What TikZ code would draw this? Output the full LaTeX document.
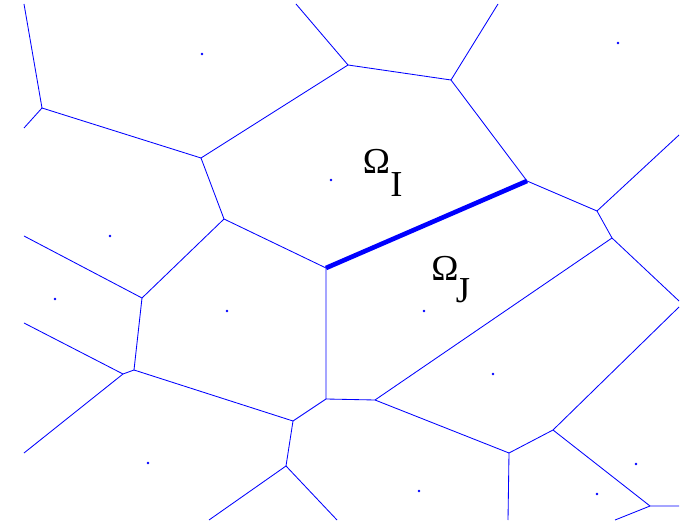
\documentclass[tikz,border=0pt]{standalone}
\usepackage{fontspec}
\setmainfont{Liberation Serif}
\begin{document}
\begin{tikzpicture}[x=0.025cm, y=-0.025cm, line join=round,
        edge/.style={blue, line width=0.6pt},
        iface/.style={blue, line width=3.3pt},
        seed/.style={fill=blue, draw=none},
        lbl/.style={font=\fontsize{26}{30}\selectfont, inner sep=0pt}]
    \useasboundingbox (0,0) rectangle (695,523);
    % Vertices
    \coordinate (A) at (42,108);
    \coordinate (B) at (201,158);
    \coordinate (C) at (348,65);
    \coordinate (D) at (224,219);
    \coordinate (E) at (142,298);
    \coordinate (F) at (326,268);
    \coordinate (G) at (451,80);
    \coordinate (H) at (527,181);
    \coordinate (K) at (597,211);
    \coordinate (L) at (612,238);
    \coordinate (M) at (134,370);
    \coordinate (N) at (123,374);
    \coordinate (P) at (293,421);
    \coordinate (Q) at (326,399);
    \coordinate (R) at (375,400);
    \coordinate (S) at (286,466);
    \coordinate (T) at (553,430);
    \coordinate (U) at (509,453);
    \coordinate (V) at (650,506);
    % Ends on the border
    \coordinate (a1) at (24,4);
    \coordinate (a2) at (24,128);
    \coordinate (c1) at (296,4);
    \coordinate (g1) at (498,4);
    \coordinate (k1) at (679,135);
    \coordinate (l1) at (679,301);
    \coordinate (t1) at (679,307);
    \coordinate (v1) at (679,506);
    \coordinate (v2) at (615,520);
    \coordinate (u1) at (508,520);
    \coordinate (s1) at (337,520);
    \coordinate (s2) at (209,520);
    \coordinate (n1) at (24,453);
    \coordinate (n2) at (24,323);
    \coordinate (e1) at (24,236);
    % Cell edges
    \draw[edge] (a1) -- (A) -- (a2);
    \draw[edge] (A) -- (B) -- (C) -- (c1);
    \draw[edge] (C) -- (G) -- (g1);
    \draw[edge] (G) -- (H) -- (K) -- (k1);
    \draw[edge] (K) -- (L) -- (l1);
    \draw[edge] (L) -- (R) -- (Q) -- (F) -- (D) -- (B);
    \draw[edge] (D) -- (E) -- (e1);
    \draw[edge] (E) -- (M) -- (N) -- (n1);
    \draw[edge] (N) -- (n2);
    \draw[edge] (M) -- (P) -- (Q);
    \draw[edge] (P) -- (S) -- (s1);
    \draw[edge] (S) -- (s2);
    \draw[edge] (R) -- (U) -- (u1);
    \draw[edge] (U) -- (T) -- (t1);
    \draw[edge] (T) -- (V) -- (v1);
    \draw[edge] (V) -- (v2);
    % Common face
    \draw[iface] (F) -- (H);
    % Seeds
    \foreach \x/\y in {202/54, 331/180, 110/236, 618/43, 55/299, 227/311,
                       424/311, 493/374, 148/463, 419/491, 636/464, 597/494} {
            \fill[seed] (\x,\y) circle (1.05pt);
        }
    % Labels
    \node[lbl] (omI) at (376.5,161) {Ω};
    \node[lbl] (subI) at (396.5,185) {I};
    \node[lbl] (omJ) at (445,268.5) {Ω};
    \node[lbl] (subJ) at (463,291) {J};
\end{tikzpicture}
\end{document}
